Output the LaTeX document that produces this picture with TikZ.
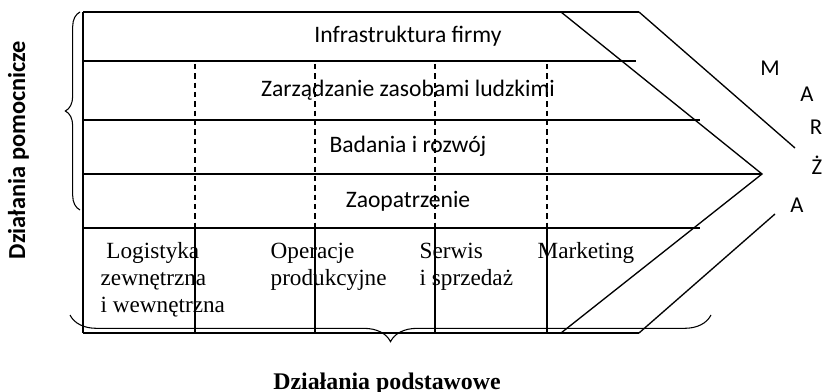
\documentclass[tikz,border=0pt]{standalone}
\usepackage{fontspec}
\setmainfont{Liberation Serif}
\newfontfamily\calibrifont{Carlito}
\usetikzlibrary{positioning,decorations.pathreplacing}

\begin{document}
\begin{tikzpicture}[x=0.75pt,y=-0.75pt,line width=1pt,
    bandtext/.style={font=\calibrifont\fontsize{17.7}{21}\selectfont,anchor=base},
    primtext/.style={font=\fontsize{17.4}{20.2}\selectfont,align=left,anchor=base west,inner sep=0pt},
    letter/.style={font=\calibrifont\fontsize{17}{20}\selectfont,anchor=base,inner sep=0pt},
    cut/.style={dash pattern=on 4pt off 3pt}]
    \useasboundingbox (0,0) rectangle (824,392);

    % Support activities (bands)
    \draw (83,12) -- (639,12);
    \draw (83,61) -- (636,61);
    \draw (83,120) -- (700,120);
    \draw (83,174) -- (762,174);
    \draw (83,228) -- (700,228);
    \draw (83,333) -- (639,333);
    \draw (83,12) -- (83,333);

    % Margin
    \draw (561,12) -- (762,174) -- (561,333);
    \draw (639,12) -- (795,148);
    \draw (775,214) -- (639,333);

    % Columns: dashed above, solid below
    \foreach \x in {195,315,435,547} {
        \draw[cut] (\x,64) -- (\x,228);
        \draw (\x,228) -- (\x,333);
    }

    \node[bandtext] (infra) at (408,43) {Infrastruktura firmy};
    \node[bandtext] (hr) at (408,97) {Zarządzanie zasobami ludzkimi};
    \node[bandtext] (rnd) at (408,152) {Badania i rozwój};
    \node[bandtext] (supply) at (408,207) {Zaopatrzenie};

    % base = last line of the node
    \node[primtext] (logist) at (100,312) {\ Logistyka\\zewnętrzna\\i wewnętrzna};
    \node[primtext] (oper) at (270,285) {Operacje\\produkcyjne};
    \node[primtext] (serv) at (419,285) {Serwis\\i sprzedaż};
    \node[primtext] (mark) at (537,258) {Marketing};

    % MARŻA
    \node[letter] (m1) at (770,76) {M};
    \node[letter] (m2) at (807,102) {A};
    \node[letter] (m3) at (816,135) {R};
    \node[letter] (m4) at (817,175) {Ż};
    \node[letter] (m5) at (797,212) {A};

    % Braces
    \draw[line width=0.8pt,decorate,decoration={brace,amplitude=11pt}] (80,210) -- (80,12);
    \draw[line width=0.8pt,decorate,decoration={brace,amplitude=20pt}] (711,315) -- (70,315);

    \node[font=\calibrifont\bfseries\fontsize{18.3}{22}\selectfont,rotate=90,anchor=base,inner sep=0pt]
        (support) at (25,150) {Działania pomocnicze};
    \node[font=\bfseries\fontsize{17.9}{21}\selectfont,anchor=base,inner sep=0pt]
        (primary) at (387,389) {Działania podstawowe};
\end{tikzpicture}
\end{document}
